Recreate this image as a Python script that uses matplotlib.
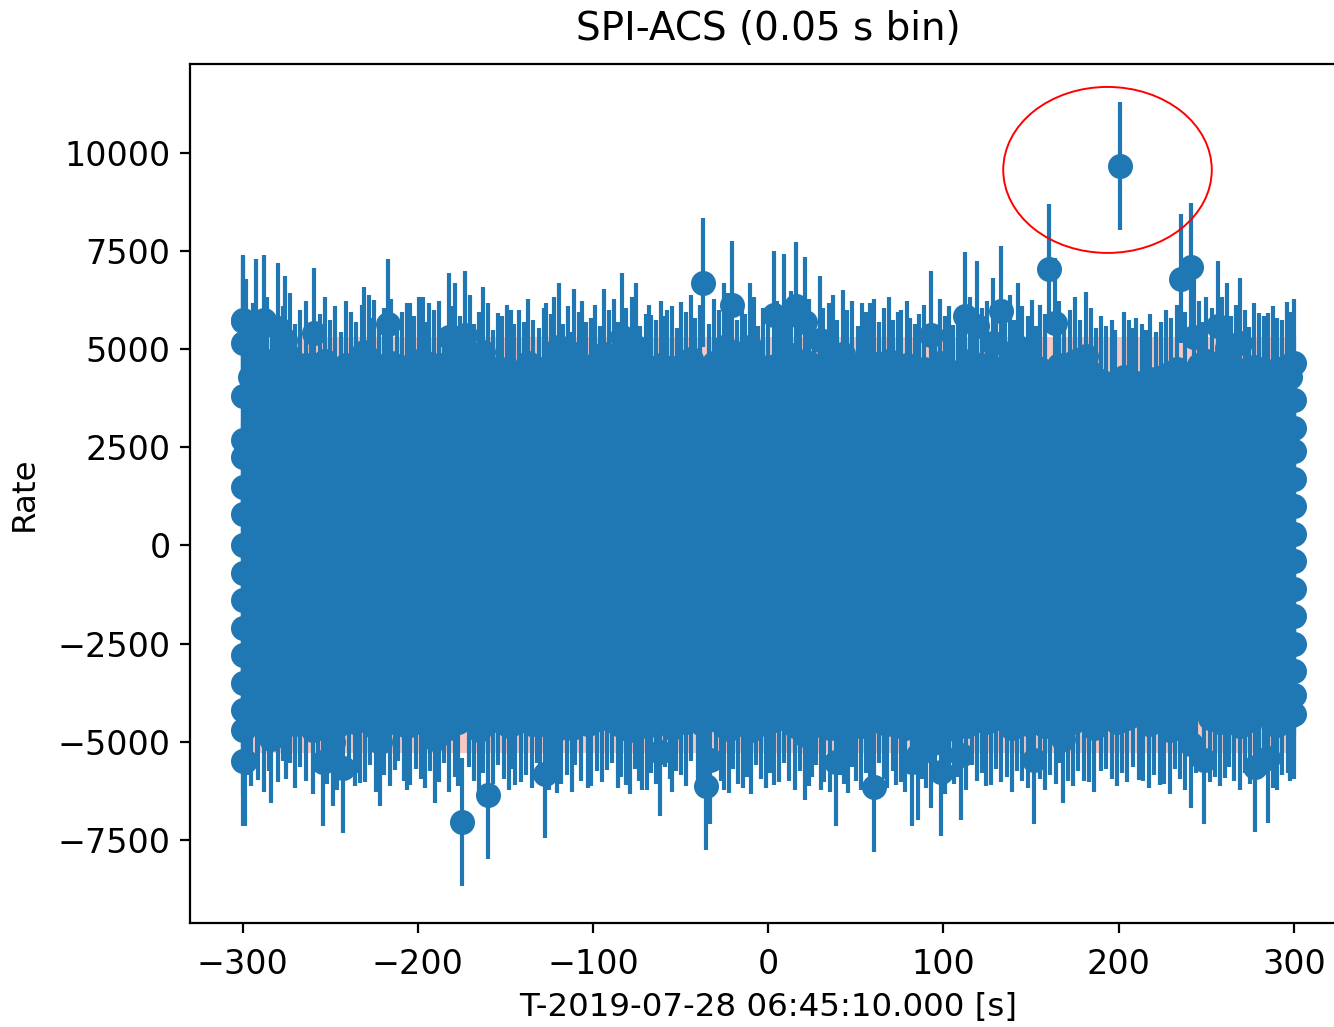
import numpy as np
import matplotlib
matplotlib.use("Agg")
import matplotlib.pyplot as plt
from matplotlib.patches import Ellipse

# SPI-ACS light curve, 0.05 s bins, T0 = 2019-07-28 06:45:10
rate_err = 1640  # 1-sigma error on each bin (counts/s)

# dense core of the light curve (envelope of the saturated band)
core_t = [-300, -250, -200, -150, -100, -50, 0, 50, 100, 150, 200, 250, 300]
core_hi = [4500, 4400, 4450, 4300, 4400, 4350, 4500, 4400, 4350, 4450, 4300, 4400, 4500]
core_lo = [-4400, -4300, -4350, -4400, -4300, -4450, -4350, -4300, -4400, -4350, -4300, -4400, -4350]

# tallest bins poking above the band
up_t = [-299.5, -292.5, -288.0, -279.9, -276.0, -298.0, -259.0, -230.7, -224.8, -217.0,
        -204.4, -199.3, -193.4, -182.4, -178.5, -173.0, -162.7, -154.0, -147.0, -139.2,
        -126.6, -119.5, -110.8, -103.8, -94.0, -83.3, -75.5, -66.8, -57.8, -50.0,
        -37.0, -25.2, -20.5, -10.6, 3.0, 9.0, 16.1, 20.8, 29.5, 34.6,
        42.5, 53.5, 60.2, 73.9, 81.0, 92.8, 105.4, 112.4, 119.1, 128.2,
        132.9, 142.7, 150.6, 160.4, 163.5, 181.2, 200.6, 205.6, 215.4, 235.3,
        241.5, 243.0, 250.0, 256.7, 261.8, 269.3, 274.4, 280.3, 285.4, 290.1, 296.0]
up_rate = [5720, 5650, 5750, 5550, 5230, 5150, 5420, 4940, 4615, 5650,
           4530, 4700, 4530, 5310, 5060, 5360, 4940, 4280, 4360, 4060,
           4530, 5060, 4890, 4060, 4890, 5310, 5060, 4230, 4360, 4570,
           6700, 5060, 6130, 5060, 5870, 5800, 6100, 5700, 5230, 4530,
           4870, 4530, 4630, 4320, 4150, 5360, 3980, 5850, 5600, 5170,
           5980, 5060, 4615, 7050, 5680, 4830, 9670, 4110, 3850, 6800,
           7090, 5320, 4700, 5600, 5040, 5170, 3940, 4280, 4280, 4150, 4570]

# the many lower bins that make the ragged upper edge
mid_up_t = [-296, -294, -290, -286, -283, -281, -277, -273, -270, -267,
            -264, -261, -256, -253, -250, -247, -244, -241, -238, -235,
            -232, -228, -226, -222, -219, -215, -212, -209, -206, -202,
            -197, -195, -191, -188, -185, -180, -176, -170, -168, -165,
            -160, -157, -152, -149, -145, -142, -137, -134, -131, -128,
            -124, -122, -117, -114, -112, -108, -106, -101, -99, -96,
            -91, -88, -86, -81, -78, -73, -70, -68, -64, -61,
            -59, -55, -52, -47, -44, -42, -39, -34, -31, -28,
            -23, -18, -15, -13, -8, -6, -3, 0, 5, 7,
            11, 13, 18, 23, 26, 31, 37, 39, 45, 48,
            51, 56, 58, 63, 66, 69, 71, 76, 79, 84,
            86, 89, 95, 98, 101, 103, 108, 110, 115, 117,
            122, 125, 130, 135, 138, 140, 145, 148, 153, 155,
            158, 166, 169, 172, 175, 178, 184, 187, 190, 193,
            196, 198, 203, 208, 210, 213, 218, 221, 224, 227,
            230, 233, 238, 246, 248, 253, 259, 264, 267, 272,
            277, 283, 288, 293, 298]
mid_up_rate = [4300, 4550, 4100, 4700, 4200, 3900, 4450, 4800, 4000, 4350,
               4600, 3950, 4250, 4700, 4100, 4450, 3800, 4600, 4300, 4050,
               4500, 4750, 4150, 3900, 4400, 4650, 4000, 4300, 4550, 4200,
               4700, 4050, 4350, 4600, 3900, 4450, 4200, 4750, 4000, 4300,
               4550, 3850, 4200, 4500, 4000, 4350, 4650, 4100, 3900, 4400,
               4250, 4700, 4000, 4450, 3800, 4300, 4600, 4150, 4500, 3950,
               4350, 4650, 4050, 4400, 4700, 3950, 4250, 4500, 4100, 4600,
               4200, 4450, 3900, 4300, 4750, 4150, 4500, 4000, 4650, 4350,
               4800, 4100, 4500, 4250, 4700, 3950, 4400, 4150, 4600, 4300,
               4500, 4850, 4200, 4650, 4000, 4400, 4750, 4100, 4350, 4600,
               3950, 4300, 4550, 4050, 4400, 4700, 4100, 4350, 4600, 4000,
               4250, 4500, 3900, 4650, 4200, 4450, 4000, 4300, 4700, 4150,
               4400, 4600, 4050, 4300, 4750, 4100, 4450, 4200, 3950, 4500,
               4250, 4600, 4000, 4350, 4700, 4100, 4400, 3900, 4200, 3950,
               4100, 3850, 4300, 3900, 4150, 4000, 4250, 3800, 4050, 4350,
               4150, 4500, 4300, 4600, 4050, 4400, 4700, 4200, 4500, 4350,
               4550, 4200, 4450, 4100, 4300]

# deepest bins poking below the band
lo_t = [-298.8, -290.9, -283.8, -272.8, -254.3, -242.5, -248.4, -232.7, -221.7, -213.0,
        -204.4, -190.3, -174.5, -160.0, -144.3, -127.4, -120.7, -103.0, -92.0, -81.4,
        -72.3, -61.7, -52.7, -35.4, -33.0, -22.4, -14.5, 3.1, 20.8, 29.9,
        38.5, 45.6, 60.1, 73.1, 81.8, 85.7, 92.8, 98.3, 110.1, 127.0,
        151.7, 168.2, 180.0, 189.9, 211.5, 223.3, 241.0, 248.8, 260.6, 277.5,
        285.4, 290.1, 296.8]
lo_rate = [-5500, -4330, -4920, -3900, -5520, -5680, -5010, -4410, -5010, -4075,
           -4460, -4920, -7050, -6350, -4460, -5820, -4670, -4540, -4075, -4460,
           -4580, -5260, -4120, -6120, -5460, -4670, -4540, -4460, -4840, -4580,
           -5520, -4670, -6160, -4460, -5520, -5350, -5050, -5770, -5350, -4460,
           -5460, -4920, -4370, -4120, -4330, -4460, -5050, -5460, -4290, -5650,
           -5420, -4580, -4160]

# ragged lower edge
mid_lo_t = [-297, -295, -292, -288, -285, -280, -277, -275, -270, -267,
            -264, -260, -257, -252, -250, -246, -244, -239, -236, -234,
            -230, -227, -224, -219, -216, -211, -208, -206, -201, -198,
            -196, -193, -188, -185, -182, -179, -177, -171, -168, -165,
            -163, -157, -154, -151, -148, -146, -141, -138, -135, -132,
            -130, -125, -123, -118, -115, -112, -110, -107, -101, -98,
            -95, -89, -86, -84, -79, -76, -74, -69, -67, -64,
            -59, -56, -55, -50, -47, -44, -40, -38, -30, -27,
            -25, -20, -17, -12, -10, -7, -4, -1, 1, 6,
            9, 12, 15, 18, 23, 25, 27, 32, 35, 41,
            43, 48, 50, 53, 56, 58, 63, 66, 68, 71,
            76, 78, 84, 88, 90, 95, 101, 103, 106, 108,
            113, 116, 119, 122, 124, 130, 133, 136, 139, 142,
            145, 148, 150, 155, 158, 161, 164, 166, 171, 174,
            177, 183, 186, 193, 196, 199, 202, 205, 208, 214,
            217, 220, 226, 229, 232, 235, 238, 244, 252, 255,
            258, 263, 266, 269, 272, 275, 280, 283, 288, 293,
            298]
mid_lo_rate = [-4200, -4500, -3900, -4650, -4100, -4400, -3850, -4300, -4550, -4000,
               -4350, -4700, -4050, -4450, -3900, -4600, -4250, -4000, -4500, -4150,
               -4400, -3950, -4650, -4200, -4500, -3850, -4350, -4600, -4050, -4300,
               -4550, -4100, -4400, -3900, -4650, -4250, -4500, -4000, -4350, -4700,
               -4150, -4450, -3950, -4300, -4600, -4050, -4400, -4200, -4550, -3900,
               -4300, -4600, -4000, -4450, -4200, -4650, -3950, -4350, -4500, -4100,
               -4400, -3900, -4550, -4250, -4700, -4050, -4350, -4600, -4150, -4450,
               -4000, -4300, -4650, -4200, -4500, -3850, -4400, -4550, -4100, -4350,
               -4600, -4050, -4450, -4250, -4700, -3950, -4300, -4550, -4150, -4400,
               -3900, -4350, -4600, -4100, -4500, -4250, -3950, -4400, -4650, -4200,
               -4450, -4000, -4350, -4600, -4150, -4500, -3900, -4300, -4550, -4100,
               -4400, -4650, -4050, -4300, -4550, -4200, -4700, -4000, -4450, -4250,
               -4600, -3950, -4350, -4150, -4500, -4050, -4400, -4250, -4650, -4100,
               -4350, -4550, -4000, -4300, -4600, -4200, -4450, -3900, -4350, -4500,
               -4100, -4400, -4650, -4050, -4300, -4500, -4150, -4400, -4000, -4350,
               -4550, -4200, -4450, -4700, -4050, -4300, -4600, -4150, -4400, -4250,
               -4500, -4000, -4350, -4600, -4150, -4450, -4300, -4050, -4550, -4200,
               -4350]

# first and last bins of the window
edge_t = [-300] * 16 + [300] * 14
edge_rate = [5750, 5150, 3800, 2700, 2250, 1500, 800, 0, -700, -1400, -2100, -2800, -3500, -4200, -4700, -5500,
             4650, 3700, 3000, 2400, 1700, 1000, 300, -400, -1100, -1800, -2500, -3200, -3800, -4300]

# background +/- band
band_t = [-300, 300]
band_half = 5300

# candidate burst bin
peak_t, peak_rate = 200.6, 9670

fig = plt.figure(figsize=(6.67, 5.135), dpi=200)
ax = fig.add_axes([0.1424, 0.1013, 0.867, 0.8364])

ax.fill_between(band_t, -band_half, band_half, color="#f9c8c2", lw=0, zorder=0)
ax.fill_between(core_t, core_lo, core_hi, color="C0", lw=0, zorder=1)

t_all = np.concatenate([mid_up_t, mid_lo_t, up_t, lo_t, edge_t])
r_all = np.concatenate([mid_up_rate, mid_lo_rate, up_rate, lo_rate, edge_rate])
ax.errorbar(t_all, r_all, yerr=rate_err, fmt="o", color="C0", ms=8, zorder=2)

ax.add_patch(Ellipse((peak_t - 7, peak_rate - 100), 119, 4230, fill=False,
                     edgecolor="red", lw=0.7, zorder=3))

ax.set_xlim(-330, 330)
ax.set_ylim(-9620, 12270)
ax.set_xticks([-300, -200, -100, 0, 100, 200, 300])
ax.set_yticks([-7500, -5000, -2500, 0, 2500, 5000, 7500, 10000])
ax.tick_params(labelsize=12)
ax.tick_params(axis="x", pad=5.5)
ax.set_title("SPI-ACS (0.05 s bin)", fontsize=14, pad=8.5)
ax.set_xlabel("T-2019-07-28 06:45:10.000 [s]", fontsize=11.7)
ax.set_ylabel("Rate", fontsize=11.7, labelpad=6.5)

fig.savefig("out.png", dpi=200)
